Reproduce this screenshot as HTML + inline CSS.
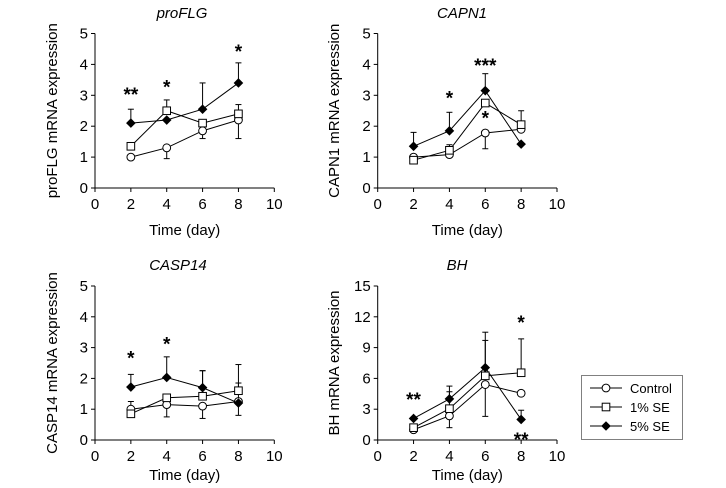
<!DOCTYPE html>
<html><head><meta charset="utf-8"><style>
body{margin:0;background:#fff}
svg{display:block;font-family:"Liberation Sans",Arial,sans-serif}
</style></head><body>
<svg id="fig" width="726" height="488" viewBox="0 0 726 488"></svg>
<script>
const days=[2,4,6,8];
const xTicks=[0,2,4,6,8,10];
const titles=["proFLG","CAPN1","CASP14","BH"];
const yLabels=["proFLG mRNA expression","CAPN1 mRNA expression","CASP14 mRNA expression","BH mRNA expression"];
const yTicksSmall=[0,1,2,3,4,5];
const yTicksBH=[0,3,6,9,12,15];
// values per panel
const proFLG_control=[1.0,1.3,1.85,2.2];
const proFLG_se1=[1.35,2.5,2.1,2.4];
const proFLG_se5=[2.1,2.2,2.55,3.4];
const proFLG_control_err=[null,0.95,1.6,1.6];
const proFLG_se1_err=[null,2.85,null,2.7];
const proFLG_se5_err=[2.55,null,3.4,4.05];
const CAPN1_control=[1.0,1.08,1.78,1.9];
const CAPN1_se1=[0.9,1.22,2.75,2.05];
const CAPN1_se5=[1.35,1.85,3.15,1.42];
const CAPN1_control_err=[null,null,1.27,null];
const CAPN1_se1_err=[null,1.4,null,2.5];
const CAPN1_se5_err=[1.8,2.45,3.7,null];
const CASP14_control=[1.0,1.15,1.1,1.25];
const CASP14_se1=[0.85,1.37,1.42,1.6];
const CASP14_se5=[1.72,2.03,1.7,1.2];
const CASP14_control_err=[1.25,0.75,0.7,0.8];
const CASP14_se1_err=[null,null,2.25,2.45];
const CASP14_se5_err=[2.13,2.7,2.25,1.85];
const BH_control=[1.0,2.35,5.4,4.55];
const BH_se1=[1.2,3.05,6.25,6.55];
const BH_se5=[2.1,4.0,7.05,2.0];
const BH_control_err=[null,1.2,2.3,null];
const BH_se1_err=[null,4.7,9.7,9.85];
const BH_se5_err=[null,5.25,10.5,2.9];
const stars_proFLG=[[2,3.1,"**"],[4,3.35,"*"],[8,4.5,"*"]];
const stars_CAPN1=[[4,3.0,"*"],[6,4.05,"***"],[6,2.35,"*"]];
const stars_CASP14=[[2,2.75,"*"],[4,3.2,"*"]];
const stars_BH=[[2,4.2,"**"],[8,11.7,"*"],[8,0.3,"**"]];

const NS="http://www.w3.org/2000/svg";
const svg=document.getElementById('fig');
function mk(tag,attrs,parent){const e=document.createElementNS(NS,tag);for(const k in attrs)e.setAttribute(k,attrs[k]);(parent||svg).appendChild(e);return e;}

const panels=[
 {ax:95,y0:188,y1:33.5,ymax:5,yt:yTicksSmall,d:[proFLG_control,proFLG_se1,proFLG_se5],e:[proFLG_control_err,proFLG_se1_err,proFLG_se5_err],s:stars_proFLG,ylx:52,tx:182,ty:18,xo:47},
 {ax:377.7,y0:188,y1:33.5,ymax:5,yt:yTicksSmall,d:[CAPN1_control,CAPN1_se1,CAPN1_se5],e:[CAPN1_control_err,CAPN1_se1_err,CAPN1_se5_err],s:stars_CAPN1,ylx:334,tx:462,ty:18,xo:47},
 {ax:95,y0:440,y1:286,ymax:5,yt:yTicksSmall,d:[CASP14_control,CASP14_se1,CASP14_se5],e:[CASP14_control_err,CASP14_se1_err,CASP14_se5_err],s:stars_CASP14,ylx:52,tx:178,ty:270,xo:40},
 {ax:377.7,y0:440,y1:286,ymax:15,yt:yTicksBH,d:[BH_control,BH_se1,BH_se5],e:[BH_control_err,BH_se1_err,BH_se5_err],s:stars_BH,ylx:334,tx:457,ty:270,xo:40}
];
const series=["control","se1","se5"];
function marker(g,k,x,y){
  if(k===0){const c=mk('circle',{cx:x,cy:y,r:3.9,fill:'#fff',stroke:'#000','stroke-width':1},g);}
  else if(k===1){const r=mk('rect',{x:x-3.8,y:y-3.8,width:7.6,height:7.6,fill:'#fff',stroke:'#000','stroke-width':1},g);}
  else {const p=mk('polygon',{points:`${x},${y-4.8} ${x+4.8},${y} ${x},${y+4.8} ${x-4.8},${y}`,fill:'#000'},g);}
}
panels.forEach((P,pi)=>{
  const g=mk('g',{});
  
  
  const xs=v=>P.ax+v*17.93;
  const ys=v=>P.y0-(v/P.ymax)*(P.y0-P.y1);
  const ax=mk('path',{d:`M${P.ax},${P.y1}V${P.y0}H${xs(10)}`,fill:'none',stroke:'#000','stroke-width':1},g);
  
  P.yt.forEach(t=>{const y=ys(t);mk('line',{x1:P.ax-4,x2:P.ax,y1:y,y2:y,stroke:'#000'},g);
    const tx=mk('text',{x:P.ax-7,y:y+5,'text-anchor':'end','font-size':15},g);tx.textContent=t;
    });
  xTicks.forEach(t=>{const x=xs(t);mk('line',{x1:x,x2:x,y1:P.y0,y2:P.y0+4,stroke:'#000'},g);
    const tx=mk('text',{x:x,y:P.y0+21,'text-anchor':'middle','font-size':15},g);tx.textContent=t;
    });
  const xl=mk('text',{x:xs(5),y:P.y0+P.xo,'text-anchor':'middle','font-size':15},g);xl.textContent='Time (day)';
  
  const cy=(P.y0+P.y1)/2;
  const yl=mk('text',{x:P.ylx,y:cy,'text-anchor':'middle','font-size':15,transform:`rotate(-90 ${P.ylx} ${cy})`,dy:5},g);yl.textContent=yLabels[pi];
  
  const ti=mk('text',{x:P.tx,y:P.ty,'text-anchor':'middle','font-size':15,'font-style':'italic'},g);ti.textContent=titles[pi];
  
  P.d.forEach((vals,k)=>{vals.forEach((v,i)=>{const e=P.e[k][i];if(e==null)return;const x=xs(days[i]);
    const l=mk('line',{x1:x,x2:x,y1:ys(v),y2:ys(e),stroke:'#000','stroke-width':1},g);
    
    mk('line',{x1:x-3,x2:x+3,y1:ys(e),y2:ys(e),stroke:'#000','stroke-width':1},g);});});
  P.d.forEach((vals,k)=>{
    const pl=mk('polyline',{points:vals.map((v,i)=>xs(days[i])+','+ys(v)).join(' '),fill:'none',stroke:'#000','stroke-width':1},g);
    
  });
  P.d.forEach((vals,k)=>vals.forEach((v,i)=>marker(g,k,xs(days[i]),ys(v))));
  P.s.forEach(s=>{const t=mk('text',{x:xs(s[0]),y:ys(s[1])+9,'text-anchor':'middle','font-size':19,'font-weight':'bold'},g);t.textContent=s[2];
    });
});
const lg=mk('g',{});


mk('rect',{x:581.5,y:375.5,width:101,height:64,fill:'#fff',stroke:'#000','stroke-width':1,'stroke-dasharray':'1,1'},lg);
const legendNames=["Control","1% SE","5% SE"];
legendNames.forEach((n,k)=>{const y=388+k*19;
  const e=mk('g',{},lg);
  mk('line',{x1:590,x2:622,y1:y,y2:y,stroke:'#000'},e);marker(e,k,606,y);
  const t=mk('text',{x:630,y:y+5,'font-size':13},e);t.textContent=n;});
</script>
</body></html>
